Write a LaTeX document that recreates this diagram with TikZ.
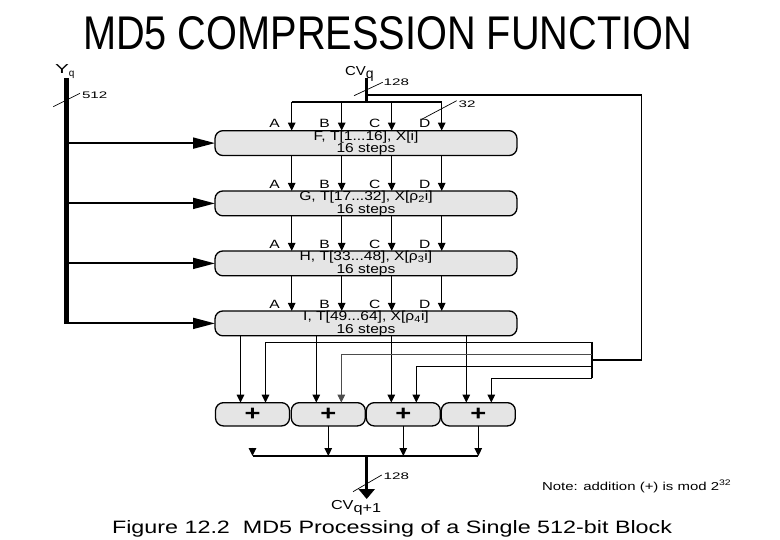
\documentclass[tikz,border=0pt]{standalone}
\usepackage{graphicx}
\usepackage{fontspec}
\setmainfont{Liberation Sans}
\usetikzlibrary{arrows.meta}
\newcommand{\hs}[1]{\scalebox{1.3}[1]{#1}}
\newcommand{\hb}[1]{\scalebox{1.2}[1]{#1}}
\newcommand{\hw}[1]{\scalebox{1.6}[1]{#1}}
\begin{document}
\begin{tikzpicture}[x=1pt,y=-1pt,
  every node/.style={inner sep=0pt,outer sep=0pt},
  tip/.style={-{Triangle[length=8pt,width=7.5pt]}},
  conn/.style={line width=1.3pt,tip},
  feed/.style={line width=1.8pt,-{Triangle[length=22pt,width=11pt]}},
  wire/.style={line width=1.3pt},
  slash/.style={line width=0.7pt},
  roundbox/.style={draw,line width=1.3pt,fill=gray!20,rounded corners=8pt,minimum width=302pt,minimum height=23pt,align=center,font=\fontsize{13}{10.5}\selectfont},
  adder/.style={draw,line width=1.3pt,fill=gray!20,rounded corners=8pt,minimum width=74pt,minimum height=23.3pt,font=\fontsize{21}{21}\selectfont\bfseries},
  abcd/.style={font=\fontsize{12}{12}\selectfont},
  bits/.style={font=\fontsize{9.5}{9.5}\selectfont,anchor=west},
  lbl/.style={anchor=base west}
]
\useasboundingbox (0,0) rectangle (780,540);

% title
\node[lbl] (title) at (83,50) {\resizebox{609pt}{33pt}{MD5 COMPRESSION FUNCTION}};

% round boxes
\node[roundbox] (r1) at (366,143.1) {\hb{F, T[1...16], X[i]}\\\hb{16 steps}};
\node[roundbox] (r2) at (366,203.4) {\hb{G, T[17...32], X[ρ\textsubscript{2}i]}\\\hb{16 steps}};
\node[roundbox] (r3) at (366,263.4) {\hb{H, T[33...48], X[ρ\textsubscript{3}i]}\\\hb{16 steps}};
\node[roundbox] (r4) at (366,323.4) {\hb{I, T[49...64], X[ρ\textsubscript{4}i]}\\\hb{16 steps}};

% Yq input
\node[lbl,font=\fontsize{13}{13}\selectfont] (yq) at (55,74) {\scalebox{1.6}[1]{Y}\raisebox{-2.5pt}{\fontsize{10}{10}\selectfont q}};
\coordinate (ytop) at (66,78);
\draw[line width=5pt] (ytop) -- ([yshift=-1pt]ytop |- r4.west);
\foreach \i in {1,...,4} \draw[feed] (ytop |- r\i.west) -- (r\i.west);
\draw[slash] (53.3,106.7) -- (80,93.3) node[bits,xshift=2pt,yshift=-2pt] (b512) {\hw{512}};

% CVq input
\node[lbl,font=\fontsize{13}{13}\selectfont] (cvq) at (345,76) {\scalebox{1.15}[1]{CV}\raisebox{-3pt}{\fontsize{14}{14}\selectfont q}};
\coordinate (cvtop) at (366.7,78);
\coordinate (cvbot) at (366.7,102);
\draw[line width=3.5pt] (cvtop) -- (cvbot);
\draw[slash] (354,95.7) -- (382.7,82.3) node[bits,xshift=1pt] (b128) {\hw{128}};
\foreach \n/\x in {A/291.7,B/341.7,C/391.7,D/441.7} \coordinate (c\n) at (\x,102);
\draw[wire] (cA) -- (cD);
\foreach \n in {A,B,C,D} {
  \draw[conn] (c\n) -- (c\n |- r1.north);
  \draw[conn] (c\n |- r1.south) -- (c\n |- r2.north);
  \draw[conn] (c\n |- r2.south) -- (c\n |- r3.north);
  \draw[conn] (c\n |- r3.south) -- (c\n |- r4.north);
  \foreach \r in {1,...,4} \path (c\n |- r\r.north) ++(-17,-7) node[abcd] (l\n\r) {\hs{\n}};
}
\draw[slash] (421.7,119.3) -- (456.7,100.7) node[bits,xshift=2pt,yshift=-4pt] (b32) {\hw{32}};

% feedback loop
\coordinate (lp0) at (366.7,95);
\coordinate (lp1) at (641.7,360);
\coordinate (rbT) at (591.7,342);
\coordinate (rbB) at (591.7,378.3);
\draw[wire] (lp0) -| (lp1) -- (rbT |- lp1);
\draw[line width=2pt] (rbT) -- (rbB);

% adders
\foreach \i/\x in {1/252.5,2/328.3,3/403.3,4/478.3} {
  \node[adder] (a\i) at (\x,414.3) {\hs{+}};
  \coordinate (in\i) at ([xshift=-12pt]a\i.north);
  \coordinate (jn\i) at ([xshift=13pt]a\i.north);
  \draw[conn] (in\i |- r4.south) -- (in\i);
}
\foreach \i/\y in {1/342.7,2/354.3,3/366.7,4/378.3} \coordinate (h\i) at (591.7,\y);
\draw[conn] (h1) -| (jn1);
\draw[line width=0.9pt,gray!60!black,tip] (h2) -| (jn2);
\draw[conn] (h3) -| (jn3);
\draw[conn] (h4) -| (jn4);

% outputs
\coordinate (sL) at (252.5,456);
\coordinate (sR) at (478.3,456);
\draw[wire] (sL) -- (sR);
\coordinate (a1h) at (252.5,447.5);
\draw[conn] (a1h) -- (sL);
\foreach \i in {2,3,4} \draw[conn] (a\i.south) -- (a\i.south |- sL);
\node[lbl,font=\fontsize{13}{13}\selectfont] (cvq1) at (331,509) {\scalebox{1.25}[1]{CV}\raisebox{-3pt}{\scalebox{1.25}[1]{\fontsize{13}{13}\selectfont q+1}}};
\coordinate (oT) at (366.7,456);
\draw[line width=3pt,-{Triangle[length=10pt,width=16pt]}] (oT) -- (366.7,499);
\draw[slash] (353,491.7) -- (381.7,475) node[bits,xshift=2pt,yshift=-1pt] (b128b) {\hw{128}};

% note and caption
\node[lbl,font=\fontsize{11.5}{11.5}\selectfont] (note) at (542,490) {\hs{Note: addition (+) is mod 2\textsuperscript{32}}};
\node[lbl] (cap) at (112,533) {\resizebox{560pt}{13pt}{Figure 12.2\ \ MD5 Processing of a Single 512-bit Block}};
\end{tikzpicture}
\end{document}
